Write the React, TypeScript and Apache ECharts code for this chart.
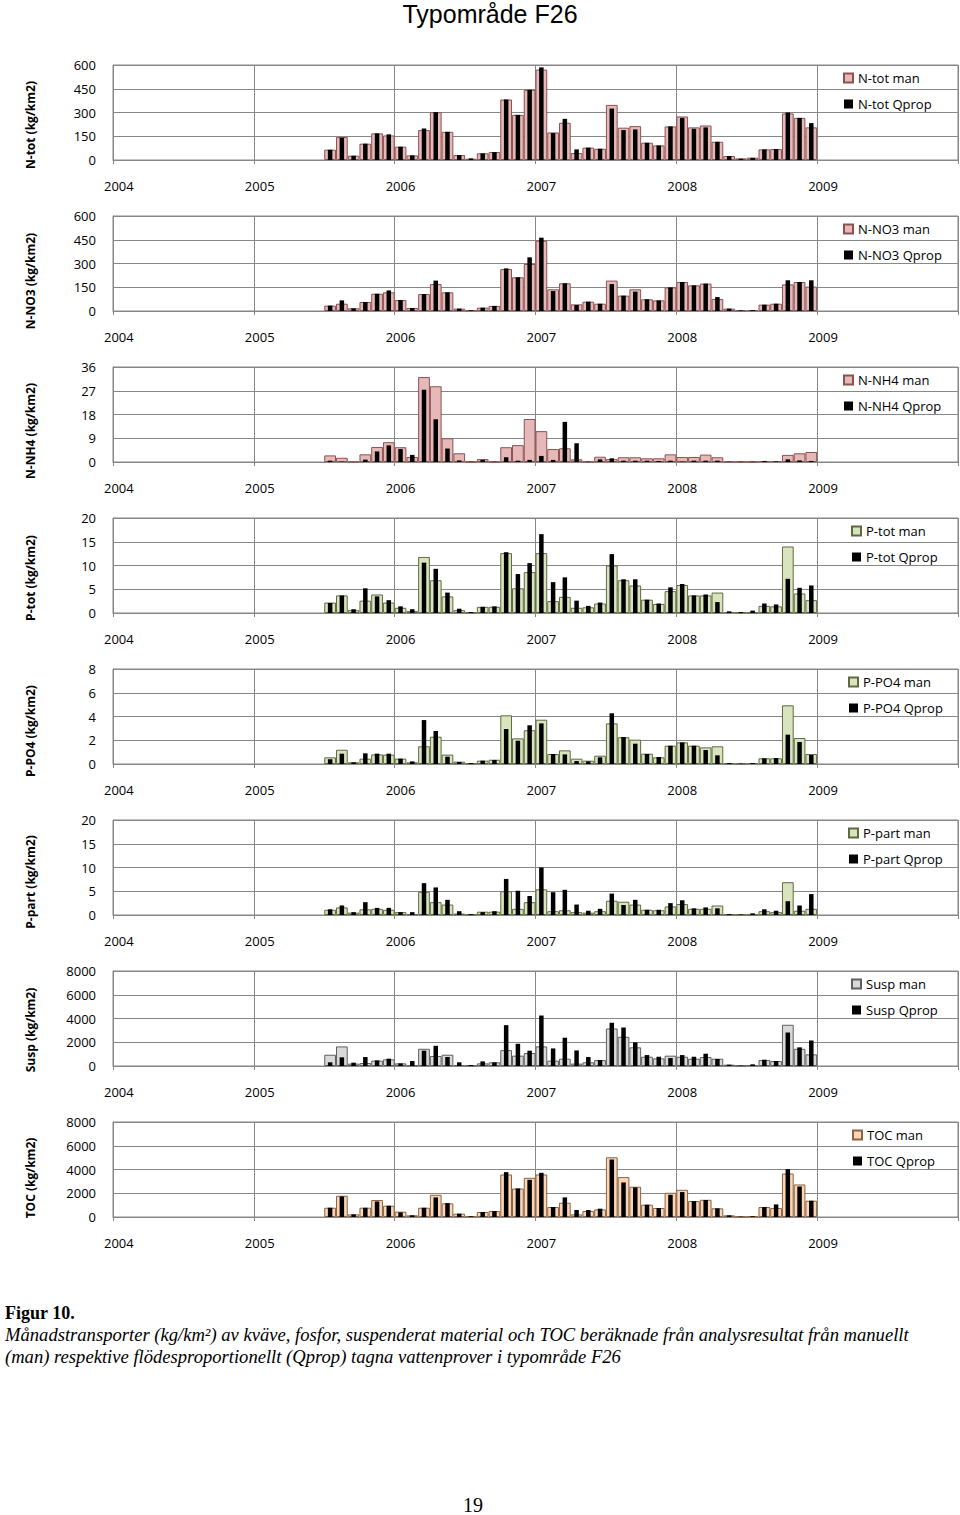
import React, { useEffect, useRef } from "react";
import * as echarts from "echarts";

// Category axis: every month 2004-01 .. 2009-12; year tick labels
const yearLabels = ["2004", "2005", "2006", "2007", "2008", "2009"];
const monthLabels: string[] = [];
yearLabels.forEach((y) => {
  for (let m = 1; m <= 12; m++) monthLabels.push(`${y}-${m < 10 ? "0" + m : m}`);
});
const firstMonth = "2005-07"; // data Jul 2005 .. Dec 2008 (42 months)

const nTotMan = [65, 145, 27, 103, 168, 155, 84, 29, 189, 302, 178, 31, 8, 42, 50, 382, 285, 443, 571, 174, 235, 44, 78, 71, 348, 204, 214, 109, 92, 212, 275, 206, 218, 115, 25, 10, 15, 67, 69, 294, 266, 206];
const nTotQprop = [65, 140, 27, 103, 168, 162, 84, 29, 199, 302, 178, 31, 10, 42, 50, 382, 285, 443, 585, 170, 260, 67, 78, 71, 325, 189, 193, 109, 92, 212, 266, 197, 206, 115, 25, 8, 13, 67, 69, 300, 266, 233];

const nNo3Man = [34, 46, 17, 57, 109, 118, 69, 19, 107, 170, 118, 15, 4, 21, 32, 265, 213, 297, 444, 137, 175, 42, 59, 46, 192, 97, 137, 74, 67, 149, 183, 162, 173, 76, 15, 4, 6, 40, 46, 168, 183, 154];
const nNo3Qprop = [34, 67, 17, 57, 109, 130, 69, 19, 107, 192, 118, 15, 4, 21, 32, 269, 213, 339, 463, 126, 175, 38, 59, 46, 170, 97, 122, 74, 67, 149, 183, 162, 173, 88, 15, 4, 6, 40, 46, 194, 183, 194];

const nNh4Man = [2.5, 1.6, 0.1, 2.9, 5.7, 7.5, 5.6, 1.9, 32.2, 28.7, 9.0, 3.3, 0.1, 1.1, 0.1, 5.6, 6.4, 16.3, 11.7, 4.9, 5.2, 1.0, 0.1, 2.0, 1.1, 1.8, 1.8, 1.4, 1.4, 2.9, 1.9, 1.9, 2.8, 1.8, 0.1, 0.1, 0.1, 0.3, 0.3, 2.7, 3.3, 3.8];
const nNh4Qprop = [0.5, 0.1, 0, 0.9, 4.0, 6.3, 4.9, 2.7, 27.4, 16.2, 5.1, 0.6, 0.1, 0.8, 0.1, 1.8, 0.5, 0.8, 2.3, 0.8, 15.2, 7.1, 0.1, 1.0, 1.4, 0.5, 0.5, 0.5, 0.4, 0.5, 0.1, 0.5, 0.5, 0.5, 0.1, 0.1, 0.1, 0.4, 0.2, 1.0, 0.6, 0.4];

const pTotMan = [2.2, 3.7, 0.6, 2.6, 3.9, 2.2, 1.1, 0.4, 11.8, 6.9, 3.5, 0.6, 0.1, 1.3, 1.3, 12.6, 5.2, 8.6, 12.6, 2.5, 3.4, 1.1, 1.2, 2.0, 10.0, 6.9, 5.8, 2.8, 1.9, 4.6, 5.9, 3.7, 3.7, 4.3, 0.2, 0.1, 0.1, 1.5, 1.4, 14.0, 4.1, 2.7];
const pTotQprop = [2.1, 3.7, 0.8, 5.2, 3.5, 2.7, 1.4, 0.8, 10.6, 9.3, 4.3, 0.9, 0.2, 1.3, 1.4, 12.8, 8.2, 10.5, 16.6, 6.5, 7.5, 2.6, 1.5, 2.2, 12.4, 7.1, 7.1, 2.8, 2.0, 5.4, 6.1, 3.7, 3.9, 2.3, 0.35, 0.2, 0.5, 2.0, 1.8, 7.2, 5.3, 5.8];

const pPo4Man = [0.56, 1.2, 0.14, 0.45, 0.81, 0.79, 0.45, 0.14, 1.49, 2.3, 0.79, 0.2, 0.06, 0.28, 0.36, 4.1, 2.16, 2.84, 3.73, 0.84, 1.15, 0.45, 0.28, 0.7, 3.42, 2.25, 2.05, 0.87, 0.56, 1.54, 1.82, 1.54, 1.4, 1.49, 0.06, 0.03, 0.08, 0.48, 0.48, 4.94, 2.19, 0.84];
const pPo4Qprop = [0.4, 0.87, 0.14, 0.9, 0.87, 0.87, 0.45, 0.22, 3.7, 2.78, 0.62, 0.17, 0.08, 0.28, 0.34, 2.95, 1.96, 3.26, 3.42, 0.84, 0.81, 0.25, 0.22, 0.56, 4.27, 2.27, 1.71, 0.84, 0.59, 1.54, 1.82, 1.54, 1.18, 0.73, 0.08, 0.03, 0.08, 0.48, 0.5, 2.47, 1.85, 0.76];

const pPartMan = [1.1, 1.6, 0.5, 1.2, 1.3, 1.1, 0.6, 0.2, 4.9, 2.7, 2.2, 0.3, 0.1, 0.7, 0.7, 5.0, 1.3, 2.7, 5.4, 0.8, 1.0, 0.6, 0.5, 0.8, 3.0, 2.8, 2.2, 1.1, 1.0, 1.8, 2.3, 1.3, 1.3, 2.0, 0.1, 0.1, 0.1, 0.8, 0.6, 6.9, 0.9, 1.3];
const pPartQprop = [1.2, 2.0, 0.6, 2.7, 1.5, 1.5, 0.6, 0.6, 6.7, 5.8, 3.2, 0.8, 0.2, 0.6, 0.8, 7.6, 5.1, 4.0, 10.0, 4.8, 5.3, 2.2, 0.9, 1.3, 4.5, 2.1, 3.2, 1.1, 1.1, 2.5, 3.1, 1.4, 1.6, 1.4, 0.2, 0.1, 0.35, 1.2, 0.9, 2.9, 2.0, 4.4];

const suspMan = [950, 1650, 200, 250, 450, 560, 220, 60, 1450, 840, 950, 80, 50, 220, 310, 1340, 870, 1090, 1650, 450, 615, 200, 310, 500, 3160, 2460, 1570, 780, 640, 870, 780, 615, 755, 615, 110, 30, 80, 500, 420, 3470, 1450, 980];
const suspQprop = [310, 730, 280, 755, 475, 615, 220, 420, 1290, 1700, 755, 310, 80, 390, 310, 3440, 1870, 1290, 4250, 1480, 2380, 1310, 755, 500, 3640, 3240, 1990, 920, 780, 670, 920, 780, 1035, 590, 110, 30, 140, 530, 420, 2820, 1570, 2150];

const tocMan = [780, 1790, 220, 780, 1430, 950, 450, 140, 780, 1870, 1150, 280, 60, 420, 500, 3580, 2400, 3300, 3580, 840, 1200, 220, 500, 640, 5030, 3360, 2550, 1035, 755, 2040, 2290, 1340, 1450, 730, 140, 30, 60, 840, 755, 3660, 2740, 1370];
const tocQprop = [780, 1730, 220, 780, 1310, 950, 390, 140, 780, 1650, 1170, 280, 60, 420, 500, 3780, 2400, 3130, 3720, 840, 1650, 590, 590, 700, 4840, 2910, 2490, 1035, 755, 1870, 2100, 1340, 1430, 730, 140, 30, 60, 840, 1060, 4030, 2570, 1370];

const axisTitles = ["N-tot (kg/km2)", "N-NO3 (kg/km2)", "N-NH4 (kg/km2)", "P-tot (kg/km2)", "P-PO4 (kg/km2)", "P-part (kg/km2)", "Susp (kg/km2)", "TOC (kg/km2)"];
const manNames = ["N-tot man", "N-NO3 man", "N-NH4 man", "P-tot man", "P-PO4 man", "P-part man", "Susp man", "TOC man"];
const qpropNames = ["N-tot Qprop", "N-NO3 Qprop", "N-NH4 Qprop", "P-tot Qprop", "P-PO4 Qprop", "P-part Qprop", "Susp Qprop", "TOC Qprop"];
const yMax = [600, 600, 36, 20, 8, 20, 8000, 8000];
const yStep = [150, 150, 9, 5, 2, 5, 2000, 2000];
const manValues = [nTotMan, nNo3Man, nNh4Man, pTotMan, pPo4Man, pPartMan, suspMan, tocMan];
const qpropValues = [nTotQprop, nNo3Qprop, nNh4Qprop, pTotQprop, pPo4Qprop, pPartQprop, suspQprop, tocQprop];

// styles
const fills = ["#E6B9B8", "#E6B9B8", "#E6B9B8", "#D7E4BD", "#D7E4BD", "#D7E4BD", "#D9D9D9", "#FCD5B5"];
const borders = ["#8C5251", "#8C5251", "#8C5251", "#5E6B42", "#5E6B42", "#5E6B42", "#5F5F5F", "#8A6445"];
const legendLeft = [843, 843, 843, 851, 848, 848, 851, 852];
const titleCenterY = [125, 281, 431, 578, 731, 882, 1030, 1178];
const FONT = "'Open Sans', 'DejaVu Sans', sans-serif";
const SERIF = "'Liberation Serif', 'Times New Roman', serif";
const GRID_COLOR = "#878787";

function pad(values: number[]): (number | null)[] {
  const start = monthLabels.indexOf(firstMonth);
  return monthLabels.map((_, i) => {
    const j = i - start;
    return j >= 0 && j < values.length ? values[j] : null;
  });
}

export default function App() {
  const ref = useRef<HTMLDivElement>(null);
  useEffect(() => {
    if (!ref.current) return;
    const chart = echarts.init(ref.current, undefined, { renderer: "svg" });
    const grids: any[] = [];
    const xAxes: any[] = [];
    const yAxes: any[] = [];
    const series: any[] = [];
    const legends: any[] = [];
    const graphics: any[] = [];
    for (let k = 0; k < 8; k++) {
      const top = 65 + 151 * k;
      grids.push({ left: 113, right: 2, top, height: 95, show: true, borderColor: GRID_COLOR, borderWidth: 1, backgroundColor: "transparent" });
      xAxes.push({
        type: "category",
        gridIndex: k,
        data: monthLabels,
        boundaryGap: true,
        axisLine: { show: true, lineStyle: { color: GRID_COLOR } },
        axisTick: { show: true, interval: 11, length: 4, lineStyle: { color: GRID_COLOR } },
        splitLine: { show: true, interval: 11, lineStyle: { color: GRID_COLOR, width: 1 } },
        axisLabel: {
          interval: 11,
          margin: 19,
          fontSize: 13,
          fontFamily: FONT,
          color: "#000",
          formatter: (v: string) => v.slice(0, 4),
        },
      });
      xAxes.push({ type: "category", gridIndex: k, data: monthLabels, boundaryGap: true, show: false });
      yAxes.push({
        type: "value",
        gridIndex: k,
        min: 0,
        max: yMax[k],
        interval: yStep[k],
        axisLine: { show: true, lineStyle: { color: GRID_COLOR } },
        axisTick: { show: false },
        splitLine: { show: true, lineStyle: { color: GRID_COLOR, width: 1 } },
        axisLabel: { margin: 17, fontSize: 13, fontFamily: FONT, color: "#000", formatter: (v: number) => String(v) },
      });
      series.push({
        type: "bar",
        name: manNames[k],
        xAxisIndex: 2 * k,
        yAxisIndex: k,
        data: pad(manValues[k]),
        barCategoryGap: "0%",
        itemStyle: { color: fills[k], borderColor: borders[k], borderWidth: 1 },
      });
      series.push({
        type: "bar",
        name: qpropNames[k],
        xAxisIndex: 2 * k + 1,
        yAxisIndex: k,
        data: pad(qpropValues[k]),
        barWidth: 4.5,
        itemStyle: { color: "#000" },
      });
      legends.push({
        data: [manNames[k], qpropNames[k]],
        orient: "vertical",
        left: legendLeft[k],
        top: top + 5,
        padding: 0,
        itemWidth: 9,
        itemHeight: 9,
        itemGap: 10,
        icon: "rect",
        selectedMode: false,
        textStyle: { fontSize: 13, fontFamily: FONT, color: "#000", lineHeight: 16 },
      });
      graphics.push({
        type: "text",
        x: 30,
        y: titleCenterY[k],
        rotation: Math.PI / 2,
        style: {
          text: axisTitles[k],
          fontSize: 12,
          fontWeight: "bold",
          fontFamily: FONT,
          fill: "#000",
          align: "center",
          verticalAlign: "middle",
        },
      });
    }
    graphics.push({
      type: "text",
      x: 490,
      y: 14,
      style: { text: "Typområde F26", fontSize: 25, fontFamily: "'Liberation Sans', Arial, sans-serif", fill: "#000", align: "center", verticalAlign: "middle" },
    });
    graphics.push({
      type: "text",
      x: 5,
      y: 1313,
      style: { text: "Figur 10.", fontSize: 18, fontWeight: "bold", fontFamily: SERIF, fill: "#000", align: "left", verticalAlign: "middle" },
    });
    graphics.push({
      type: "text",
      x: 5,
      y: 1334,
      style: {
        text: "Månadstransporter (kg/km²) av kväve, fosfor, suspenderat material och TOC beräknade från analysresultat från manuellt",
        fontSize: 18.6,
        fontStyle: "italic",
        fontFamily: SERIF,
        fill: "#000",
        align: "left",
        verticalAlign: "middle",
      },
    });
    graphics.push({
      type: "text",
      x: 5,
      y: 1356,
      style: {
        text: "(man) respektive flödesproportionellt (Qprop) tagna vattenprover i typområde F26",
        fontSize: 18.6,
        fontStyle: "italic",
        fontFamily: SERIF,
        fill: "#000",
        align: "left",
        verticalAlign: "middle",
      },
    });
    graphics.push({
      type: "text",
      x: 473,
      y: 1505,
      style: { text: "19", fontSize: 20, fontFamily: SERIF, fill: "#000", align: "center", verticalAlign: "middle" },
    });

    chart.setOption({
      animation: false,
      backgroundColor: "#fff",
      grid: grids,
      xAxis: xAxes,
      yAxis: yAxes,
      legend: legends,
      series,
      graphic: graphics,
    });
    return () => chart.dispose();
  }, []);
  return <div ref={ref} style={{ position: "absolute", left: 0, top: 0, width: 960, height: 1515 }} />;
}
